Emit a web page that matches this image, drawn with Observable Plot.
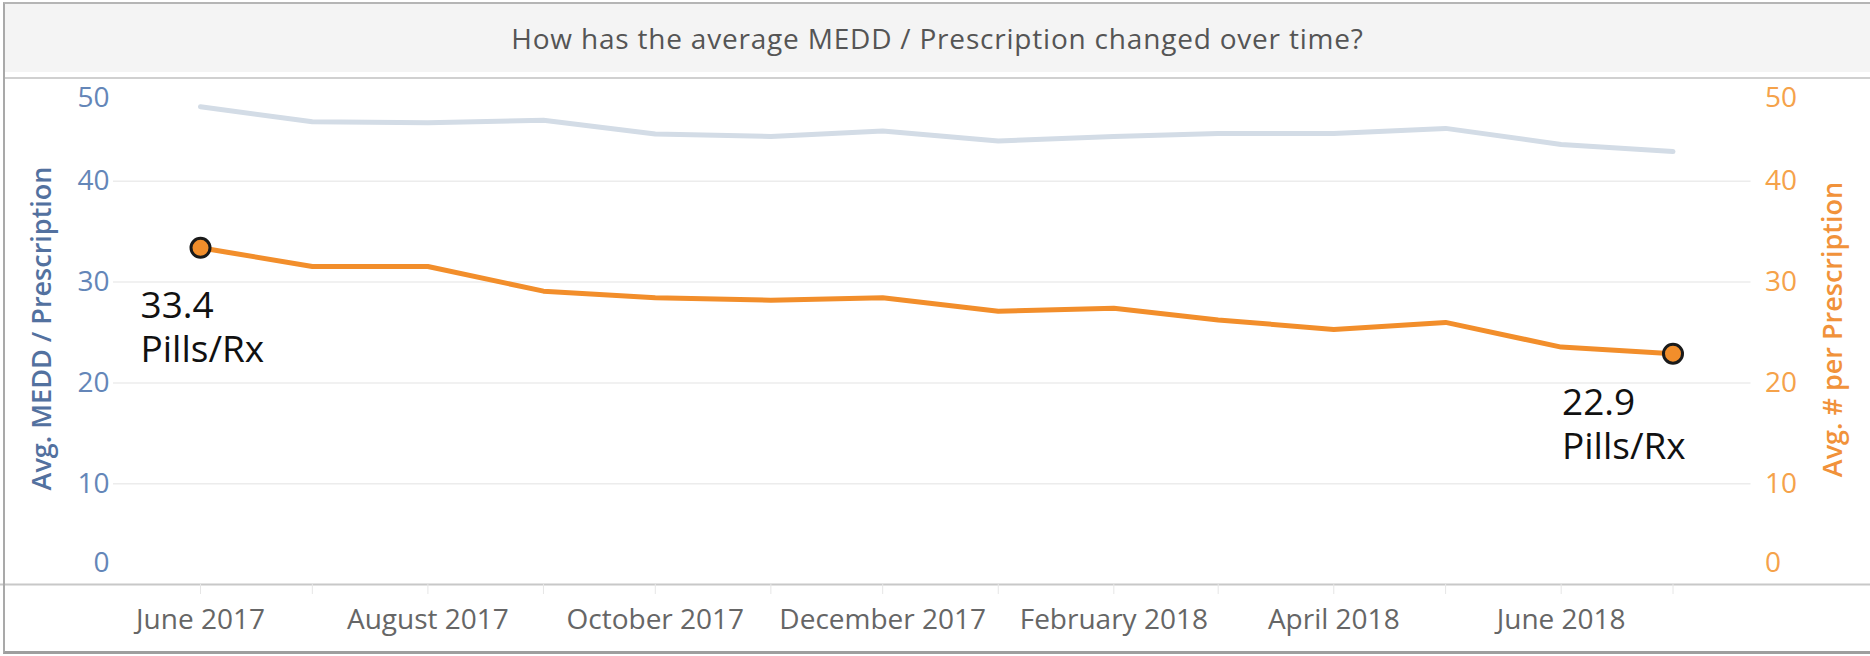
<!DOCTYPE html>
<html>
<head>
<meta charset="utf-8">
<script src="https://cdn.jsdelivr.net/npm/d3@7"></script>
<script src="https://cdn.jsdelivr.net/npm/@observablehq/plot@0.6"></script>
<style>
  html, body { margin: 0; padding: 0; background: #fff; }
  #wrap { position: relative; width: 1870px; height: 656px; overflow: hidden; font-family: "Open Sans", sans-serif; }
  #title { position: absolute; left: 5px; top: 4px; width: 1865px; height: 68px; background: #f4f4f4;
           display: flex; align-items: center; justify-content: center;
           font-size: 28px; letter-spacing: 0.8px; color: #555; }
  #divider { position: absolute; left: 5px; top: 77px; width: 1865px; height: 2px; background: #d0d0d0; }
  #chart { position: absolute; left: 0; top: 60px; }
  #frame { position: absolute; left: 3px; top: 2px; width: 1867px; height: 652px; box-sizing: border-box;
           border-left: 2px solid #a9a9a9; border-top: 2px solid #b5b5b5; border-bottom: 3px solid #9e9e9e; pointer-events: none; }
</style>
</head>
<body>
<div id="wrap">
  <div id="title">How has the average MEDD / Prescription changed over time?</div>
  <div id="divider"></div>
  <div id="chart"></div>
  <div id="frame"></div>
</div>
<script>
// ---- Data ----
const monthStrings = ["2017-06-01","2017-07-01","2017-08-01","2017-09-01","2017-10-01","2017-11-01","2017-12-01",
                      "2018-01-01","2018-02-01","2018-03-01","2018-04-01","2018-05-01","2018-06-01","2018-07-01"];
const meddPerRx = [47.4, 45.9, 45.8, 46.05, 44.7, 44.45, 45.0, 44.0, 44.45, 44.75, 44.75, 45.25, 43.65, 42.95];
const pillsPerRx = [33.4, 31.55, 31.55, 29.1, 28.45, 28.2, 28.45, 27.1, 27.4, 26.25, 25.3, 26.0, 23.55, 22.9];
const yTicks = [0, 10, 20, 30, 40, 50];
const leftTitle = "Avg. MEDD / Prescription";
const rightTitle = "Avg. # per Prescription";
const unitLabel = "Pills/Rx";

const months = monthStrings.map(s => new Date(s));
const rows = months.map((d, i) => ({date: d, medd: meddPerRx[i], pills: pillsPerRx[i]}));
const first = rows[0], last = rows[rows.length - 1];
const labelMonths = months.filter((d, i) => i % 2 === 0 && i < months.length - 1);
const midTicks = yTicks.filter(t => t > 0 && t < 50);

const blueTick = "#6486b8", blueTitle = "#53719f";
const orangeTick = "#f5a24a", orangeTitle = "#f1923a";
const orange = "#f28e2b", grey = "#d3dce6";

const chart = Plot.plot({
  width: 1870,
  height: 596,
  marginLeft: 200,
  marginRight: 197.5,
  marginTop: 20,
  marginBottom: 72,
  style: {fontFamily: "Open Sans, sans-serif", background: "transparent"},
  x: {type: "utc", domain: [months[0], months[months.length - 1]]},
  y: {domain: [0, 50]},
  marks: [
    Plot.ruleY(midTicks, {stroke: "#ececec", strokeWidth: 1.5, insetLeft: -87, insetRight: -78}),
    Plot.ruleY([0], {stroke: "#c8c8c8", strokeWidth: 2, insetLeft: -200, insetRight: -198}),
    Plot.axisX({ticks: months, tickSize: 10, stroke: "#e6e6e6", tickFormat: () => "", label: null}),
    Plot.axisX({ticks: labelMonths, tickSize: 0, tickPadding: 25, tickFormat: d3.utcFormat("%B %Y"),
                fontSize: 28, fill: "#666", label: null}),
    // left axis
    Plot.axisY({anchor: "left", ticks: midTicks, tickSize: 0, tickPadding: 91, fontSize: 28, fill: blueTick, label: null}),
    Plot.axisY({anchor: "left", ticks: [50], tickSize: 0, tickPadding: 91, fontSize: 28, fill: blueTick, label: null, dy: 18}),
    Plot.axisY({anchor: "left", ticks: [0], tickSize: 0, tickPadding: 91, fontSize: 28, fill: blueTick, label: null, dy: -21}),
    // right axis
    Plot.axisY({anchor: "right", ticks: midTicks, tickSize: 0, tickPadding: 92, fontSize: 28, fill: orangeTick, label: null}),
    Plot.axisY({anchor: "right", ticks: [50], tickSize: 0, tickPadding: 92, fontSize: 28, fill: orangeTick, label: null, dy: 18}),
    Plot.axisY({anchor: "right", ticks: [0], tickSize: 0, tickPadding: 92, fontSize: 28, fill: orangeTick, label: null, dy: -21}),
    // axis titles
    Plot.text([leftTitle], {frameAnchor: "left", text: d => d, rotate: -90, textAnchor: "middle", dx: -158, dy: -4,
                            fontSize: 27, fontWeight: 600, fill: blueTitle}),
    Plot.text([rightTitle], {frameAnchor: "right", text: d => d, rotate: -90, textAnchor: "middle", dx: 160, dy: -3,
                             fontSize: 27, fontWeight: 600, fill: orangeTitle}),
    // lines
    Plot.line(rows, {x: "date", y: "medd", stroke: grey, strokeWidth: 5}),
    Plot.line(rows, {x: "date", y: "pills", stroke: orange, strokeWidth: 5}),
    Plot.dot([first, last], {x: "date", y: "pills", r: 9.5, fill: orange, stroke: "#1a1a1a", strokeWidth: 3}),
    // annotations
    Plot.text([first], {x: "date", y: "pills", text: d => `${d.pills.toFixed(1)}\n${unitLabel}`,
                        textAnchor: "start", lineAnchor: "top", dx: -60, dy: 39, fontSize: 37, lineHeight: 1.19, fill: "#111"}),
    Plot.text([last], {x: "date", y: "pills", text: d => `${d.pills.toFixed(1)}\n${unitLabel}`,
                       textAnchor: "start", lineAnchor: "top", dx: -111, dy: 30, fontSize: 37, lineHeight: 1.19, fill: "#111"})
  ]
});
document.getElementById("chart").appendChild(chart);
</script>
</body>
</html>
